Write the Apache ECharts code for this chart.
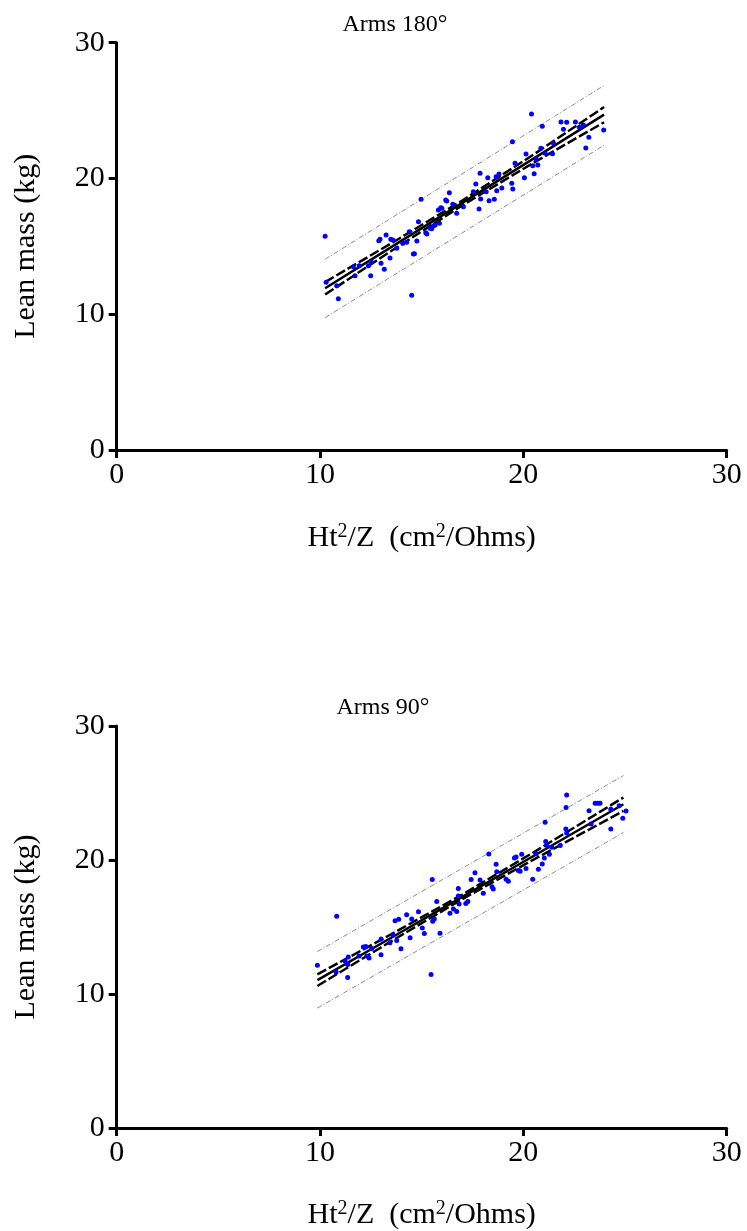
<!DOCTYPE html>
<html>
<head>
<meta charset="utf-8">
<script src="https://cdn.jsdelivr.net/npm/echarts@6/dist/echarts.min.js"></script>
<style>html,body{margin:0;padding:0;background:#fff}#c{width:747px;height:1231px}</style>
</head>
<body>
<div id="c"></div>
<script>
// ---------- Panel 1: Arms 180° ----------
const x180 = [10.25,10.30,10.82,10.90,11.64,11.72,11.93,12.38,12.49,12.51,12.89,12.95,13.00,13.16,13.25,13.44,13.48,13.58,13.77,14.07,14.26,14.39,14.51,14.59,14.64,14.76,14.84,14.97,15.20,15.25,15.41,15.49,15.57,15.66,15.87,15.82,15.94,15.99,16.18,16.23,16.36,16.53,16.72,17.05,17.54,17.66,17.87,17.82,17.90,18.17,18.25,18.31,18.57,18.66,18.69,18.80,18.94,19.43,19.48,19.46,19.59,20.05,20.13,20.46,20.53,20.71,20.86,20.93,21.07,21.43,21.48,21.85,21.97,22.13,22.56,22.75,22.95,23.07,23.22,23.95,20.40,20.62];
const y180 = [15.74,12.35,12.10,11.14,13.50,12.84,13.57,13.57,12.84,13.87,15.42,15.52,13.75,13.31,15.84,14.14,15.52,15.47,14.86,15.22,15.30,16.08,11.39,14.44,14.46,15.39,16.82,18.47,16.00,15.91,16.33,16.30,16.50,16.57,16.70,17.68,17.85,17.80,18.41,18.34,18.95,18.10,17.43,17.92,19.02,19.59,20.38,17.75,18.49,19.02,20.06,18.36,18.47,20.13,19.10,20.33,19.30,19.64,19.22,22.71,21.12,20.06,21.80,20.94,20.35,20.99,22.22,23.84,21.85,21.82,22.59,24.16,23.62,24.14,24.16,23.77,23.94,22.24,23.03,23.57,24.75,21.45];
const fitX180 = [10.25,13.5,17.0,20.5,23.97];
const fit180 = [11.91,14.94,18.20,21.46,24.70];
const ciUp180 = [12.37,15.22,18.38,21.76,25.26];
const ciLo180 = [11.45,14.66,18.02,21.16,24.14];
const predX180 = [10.25,23.97];
const predUp180 = [14.05,26.85];
const predLo180 = [9.75,22.45];

// ---------- Panel 2: Arms 90° ----------
const x90 = [9.87,10.82,10.79,11.36,11.39,11.36,12.13,12.25,12.30,12.41,12.54,13.00,13.00,13.44,13.69,13.87,13.77,13.98,14.26,14.43,14.51,14.84,15.03,15.13,15.52,15.46,15.54,15.62,15.74,15.90,16.39,16.56,16.72,16.80,16.84,17.17,17.27,17.43,17.62,17.87,18.03,18.30,18.46,18.52,18.66,18.69,19.15,19.26,19.56,19.64,19.75,19.84,19.92,20.13,20.46,20.62,20.74,20.93,21.03,21.07,21.10,21.15,21.28,21.40,21.81,22.09,22.13,22.10,22.13,23.23,23.33,23.53,23.66,23.77,24.30,24.30,24.71,24.89,25.05,11.23,11.92,13.58,16.80];
const y90 = [12.14,15.81,11.65,11.23,12.76,12.21,13.50,13.54,12.84,12.69,13.40,12.93,14.11,13.82,15.47,15.57,13.99,13.37,15.91,14.19,15.59,16.13,14.93,14.51,18.55,11.45,15.42,15.59,16.90,14.53,16.03,16.35,16.16,17.88,16.72,16.75,16.90,18.55,19.04,18.50,17.51,20.45,18.01,17.83,19.68,19.12,18.57,18.42,20.15,20.22,19.21,19.16,20.42,19.36,18.57,20.47,19.31,19.71,20.15,22.81,21.38,21.08,20.42,20.96,21.08,22.32,22.02,23.92,24.85,23.67,22.69,24.24,24.24,24.24,22.32,23.79,24.04,23.11,23.65,12.47,12.84,14.43,17.31];
const fitX90 = [9.87,13.5,17.0,20.5,24.92];
const fit90 = [11.03,14.20,17.25,20.30,24.16];
const ciUp90 = [11.46,14.46,17.42,20.57,24.66];
const ciLo90 = [10.60,13.94,17.08,20.03,23.66];
const predX90 = [9.87,24.92];
const predUp90 = [13.17,26.30];
const predLo90 = [8.95,22.05];

// ---------- Axis tick labels / text ----------
const axisMin = 0, axisMax = 30, axisStep = 10;
const titles = ['Arms 180°', 'Arms 90°'];
const xName = 'Ht{sup|2}/Z  (cm{sup|2}/Ohms)';
const yName = 'Lean mass (kg)';

const FONT = 'Liberation Serif';
const zip = (a, b) => a.map((v, i) => [v, b[i]]);

const chart = echarts.init(document.getElementById('c'), null, {renderer: 'canvas'});

function xAxis(gi, gap) {
  return {
    gridIndex: gi, type: 'value', min: axisMin, max: axisMax, interval: axisStep,
    splitLine: {show: false},
    axisLine: {show: true, onZero: false, lineStyle: {color: '#000', width: 3}},
    axisTick: {show: true, length: 8, lineStyle: {color: '#000', width: 3}},
    axisLabel: {color: '#000', fontFamily: FONT, fontSize: 30, margin: 10},
    name: xName, nameLocation: 'middle', nameGap: gap,
    nameTextStyle: {color: '#000', fontFamily: FONT, fontSize: 30,
      rich: {sup: {fontFamily: FONT, fontSize: 20, color: '#000', verticalAlign: 'top', padding: [0,0,12,0]}}}
  };
}
function yAxis(gi) {
  return {
    gridIndex: gi, type: 'value', min: axisMin, max: axisMax, interval: axisStep,
    splitLine: {show: false},
    axisLine: {show: true, onZero: false, lineStyle: {color: '#000', width: 3}},
    axisTick: {show: true, length: 8, lineStyle: {color: '#000', width: 3}},
    axisLabel: {color: '#000', fontFamily: FONT, fontSize: 30, margin: 12},
    name: yName, nameLocation: 'middle', nameGap: 76, nameRotate: 90,
    nameTextStyle: {color: '#000', fontFamily: FONT, fontSize: 30}
  };
}
function lineSeries(gi, xs, ys, style) {
  return {type: 'line', xAxisIndex: gi, yAxisIndex: gi, data: zip(xs, ys),
    showSymbol: false, symbol: 'none', silent: true, animation: false,
    lineStyle: style, z: 3};
}
function panel(gi, xs, ys, fx, fy, cu, cl, px, pu, pl) {
  const solid = {color: '#000', width: 2.5, type: 'solid'};
  const dashed = {color: '#000', width: 2.5, type: [10, 3]};
  const dashdot = {color: '#8a8a8a', width: 1, type: [5, 2, 1, 2]};
  return [
    {type: 'scatter', xAxisIndex: gi, yAxisIndex: gi, data: zip(xs, ys),
     symbol: 'circle', symbolSize: 5, itemStyle: {color: '#0000ff', opacity: 1}, z: 4, animation: false},
    lineSeries(gi, fx, fy, solid),
    lineSeries(gi, fx, cu, dashed),
    lineSeries(gi, fx, cl, dashed),
    lineSeries(gi, px, pu, dashdot),
    lineSeries(gi, px, pl, dashdot)
  ];
}

chart.setOption({
  backgroundColor: '#fff',
  animation: false,
  grid: [
    {left: 116.7, width: 610, top: 42.7, height: 407.3},
    {left: 116.7, width: 610, top: 726, height: 406}
  ],
  xAxis: [xAxis(0, 72), xAxis(1, 71)],
  yAxis: [yAxis(0), yAxis(1)],
  graphic: [
    {type: 'text', x: 395, y: 25, style: {text: titles[0], font: '24px "Liberation Serif"', fill: '#000', align: 'center', verticalAlign: 'middle'}},
    {type: 'text', x: 383, y: 708, style: {text: titles[1], font: '24px "Liberation Serif"', fill: '#000', align: 'center', verticalAlign: 'middle'}}
  ],
  series: [
    ...panel(0, x180, y180, fitX180, fit180, ciUp180, ciLo180, predX180, predUp180, predLo180),
    ...panel(1, x90, y90, fitX90, fit90, ciUp90, ciLo90, predX90, predUp90, predLo90)
  ]
});
</script>
</body>
</html>
